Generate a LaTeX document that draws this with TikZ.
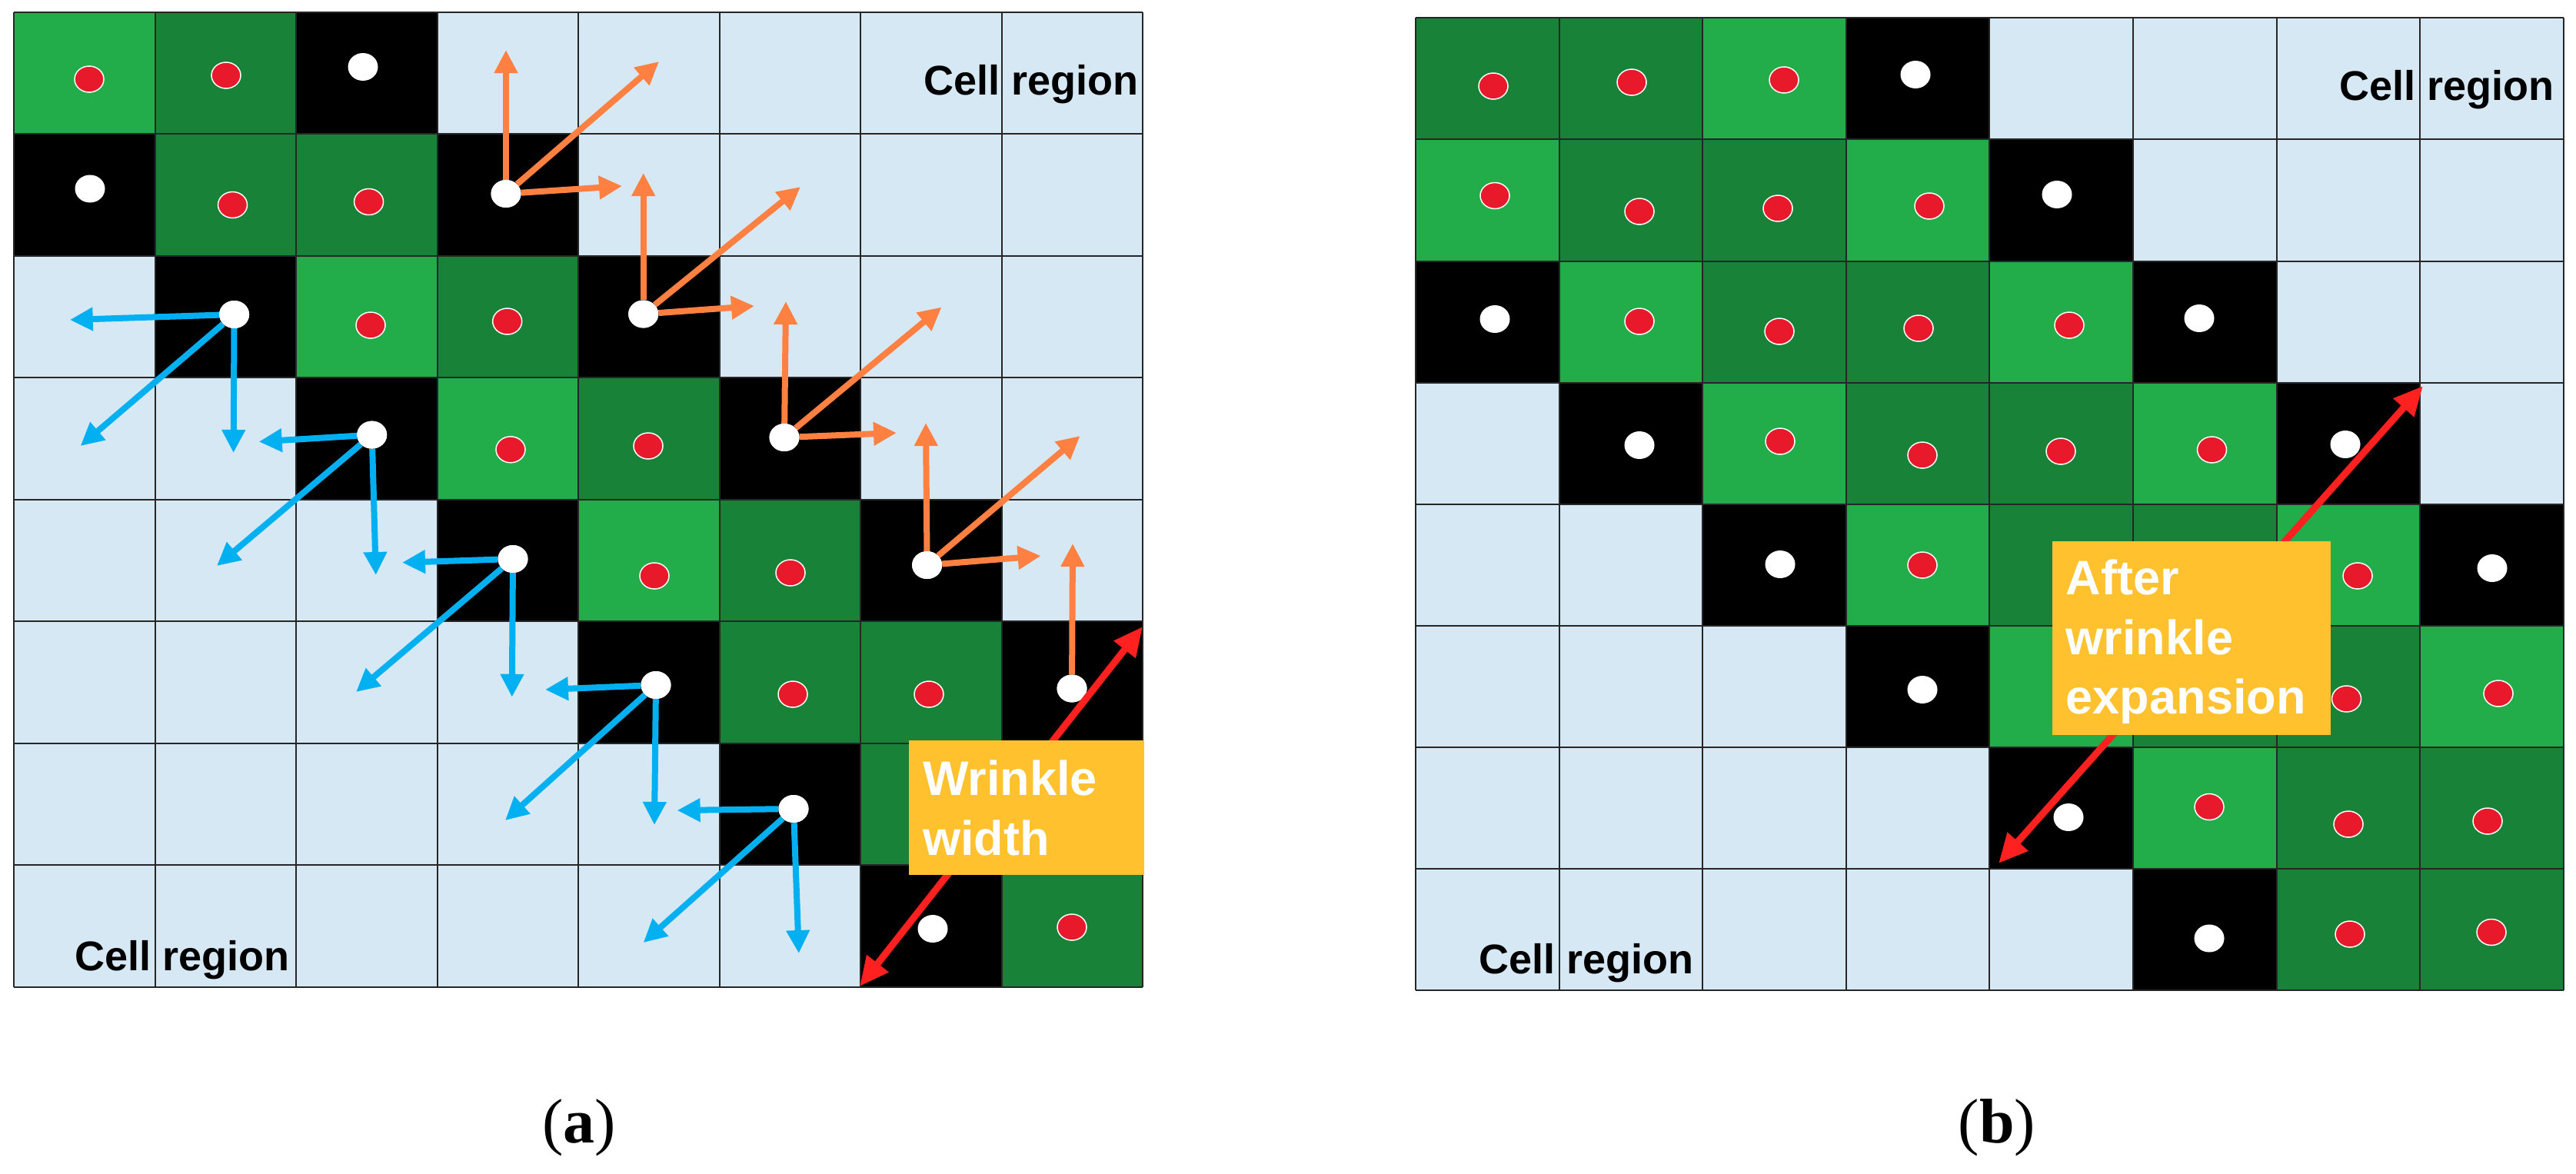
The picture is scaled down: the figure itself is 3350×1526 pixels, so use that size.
\documentclass[tikz,border=0pt]{standalone}
\usepackage{fontspec}
\setmainfont{Liberation Serif}
\setsansfont{Liberation Sans}
\usetikzlibrary{arrows.meta,shapes.geometric}
\definecolor{lblue}{HTML}{D7E8F5}
\definecolor{lgreen}{HTML}{22AD4A}
\definecolor{dgreen}{HTML}{188238}
\definecolor{dotred}{HTML}{E8192A}
\definecolor{orangeA}{HTML}{FF8040}
\definecolor{blueA}{HTML}{00B0F0}
\definecolor{redA}{HTML}{FF2020}
\definecolor{yellowA}{HTML}{FFC12E}
\tikzset{
  gline/.style={draw=black!85, line width=2pt},
  wdot/.style={ellipse, fill=white, draw=none, minimum width=39pt, minimum height=36pt, inner sep=0pt},
  rdot/.style={ellipse, fill=dotred, draw=white, line width=1.5pt, minimum width=38pt, minimum height=34pt, inner sep=0pt},
  orarrow/.style={draw=orangeA, line width=8pt, -{Triangle[length=30pt,width=29pt]}},
  blarrow/.style={draw=blueA, line width=8pt, -{Triangle[length=30pt,width=29pt]}},
  rdarrow/.style={draw=redA, line width=9pt, {Triangle[length=38pt,width=34pt]}-{Triangle[length=38pt,width=34pt]}},
  ybox/.style={fill=yellowA, draw=none, inner sep=0pt, anchor=north west},
  btxt/.style={font=\sffamily\bfseries\fontsize{63}{77.5}\selectfont, text=white, align=left, inner sep=0pt, anchor=north west},
  ctxt/.style={font=\sffamily\bfseries\fontsize{54}{60}\selectfont, inner sep=0pt, anchor=base west},
  captxt/.style={font=\rmfamily\fontsize{82}{90}\selectfont, inner sep=0pt, anchor=base}
}
\begin{document}
\begin{tikzpicture}[x=1pt,y=-1pt]
\useasboundingbox (0,0) rectangle (3350,1526);
\fill[white] (0,0) rectangle (3350,1526);

% ---------- left grid ----------
\begin{scope}[shift={(18pt,-15.6pt)},x=183.5pt,y=-158.55pt]
  \fill[lblue] (0,0) rectangle (8,8);
  \foreach \c/\r in {0/0,2/2,3/3,4/4}
    \fill[lgreen] (\c,\r) rectangle ++(1,1);
  \foreach \c/\r in {1/0,1/1,2/1,3/2,4/3,5/4,5/5,6/5,6/6,7/6,7/7}
    \fill[dgreen] (\c,\r) rectangle ++(1,1);
  \foreach \c/\r in {2/0,0/1,3/1,1/2,4/2,2/3,5/3,3/4,6/4,4/5,7/5,5/6,6/7}
    \fill[black] (\c,\r) rectangle ++(1,1);
  \foreach \i in {0,...,8} {
    \draw[gline] (\i,0) -- (\i,8);
    \draw[gline] (0,\i) -- (8,\i);
  }
\end{scope}

% ---------- right grid ----------
\begin{scope}[shift={(1841pt,-23.2pt)},x=186.6pt,y=-158.15pt]
  \fill[lblue] (0,0) rectangle (8,8);
  \foreach \c/\r in {2/0,0/1,3/1,1/2,4/2,2/3,5/3,3/4,6/4,4/5,7/5,5/6}
    \fill[lgreen] (\c,\r) rectangle ++(1,1);
  \foreach \c/\r in {0/0,1/0,1/1,2/1,2/2,3/2,3/3,4/3,4/4,5/4,5/5,6/5,6/6,7/6,6/7,7/7}
    \fill[dgreen] (\c,\r) rectangle ++(1,1);
  \foreach \c/\r in {3/0,4/1,0/2,5/2,1/3,6/3,2/4,7/4,3/5,4/6,5/7}
    \fill[black] (\c,\r) rectangle ++(1,1);
  \foreach \i in {0,...,8} {
    \draw[gline] (\i,0) -- (\i,8);
    \draw[gline] (0,\i) -- (8,\i);
  }
\end{scope}

% ---------- left dots ----------
\foreach \n/\x/\y in {a00/116/103,a01/294/98,a11/302.5/266.5,a12/479.6/262.5,
  a22/482/423,a23/659.7/418,a33/664/584.8,a34/843/580,a44/851/749,a45/1028/745,
  a55/1031/903,a56/1208/903,a77/1394/1206}
  \node[rdot] (\n) at (\x,\y) {};
\foreach \n/\x/\y in {a02/472/87,a10/117/245.5,a13/658/252,a21/304.6/409,
  a24/836.7/408.5,a32/483.7/565.6,a35/1020/569,a43/667/727,a46/1205.6/735,
  a54/853/891,a57/1394/895.5,a65/1032/1052,a76/1213/1208}
  \node[wdot] (\n) at (\x,\y) {};

% ---------- orange arrows ----------
\foreach \n/\ux/\uy/\dx/\dy/\rx/\ry in {a13/658/65/857/80/809/242,
  a24/836.7/225/1041/243/981/398,
  a35/1022/392/1224.5/399.5/1166/563,
  a46/1204/550/1404.6/567/1353.6/723}{
  \coordinate (\n u) at (\ux,\uy);
  \coordinate (\n d) at (\dx,\dy);
  \coordinate (\n r) at (\rx,\ry);
  \draw[orarrow] (\n) -- (\n u);
  \draw[orarrow] (\n) -- (\n d);
  \draw[orarrow] (\n) -- (\n r);
}
\coordinate (a57u) at (1395,707);
\draw[orarrow] (a57) -- (a57u);

% ---------- blue arrows ----------
\foreach \n/\lx/\ly/\dx/\dy/\bx/\by in {a21/90.8/416/104.6/580/303.6/589,
  a32/336.7/574.5/282/736/488.8/748,
  a43/523/731.7/463/900/665.8/906.7,
  a54/709/897/657/1067/851/1073,
  a65/880.6/1054/836.7/1226/1038.8/1240}{
  \coordinate (\n l) at (\lx,\ly);
  \coordinate (\n g) at (\dx,\dy);
  \coordinate (\n b) at (\bx,\by);
  \draw[blarrow] (\n) -- (\n l);
  \draw[blarrow] (\n) -- (\n g);
  \draw[blarrow] (\n) -- (\n b);
}
% redraw dots with arrows over them
\foreach \n/\x/\y in {a13/658/252,a21/304.6/409,a24/836.7/408.5,a32/483.7/565.6,
  a35/1020/569,a43/667/727,a46/1205.6/735,a54/853/891,a57/1394/895.5,a65/1032/1052}
  \node[wdot] (\n x) at (\x,\y) {};

% ---------- right dots ----------
\foreach \n/\x/\y in {b00/1942/112,b01/2122/107,b02/2320/104,
  b10/1944/254.5,b11/2132/275,b12/2312/271,b13/2509/268,
  b21/2132/418,b22/2314/431,b23/2495/427,b24/2691/423,
  b32/2315/574,b33/2500/592,b34/2680/587,b35/2876.5/585,
  b43/2500/735,b46/3066/749,b56/3051.5/909,b57/3249/902,
  b65/2873/1049.5,b66/3054/1072,b67/3235/1068,b76/3056/1215,b77/3240/1212.5}
  \node[rdot] (\n) at (\x,\y) {};
\foreach \n/\x/\y in {b03/2491/97,b14/2675/253,b20/1944/415,b25/2860/414,
  b31/2132/579,b36/3050/578,b42/2315/734,b47/3241/739,b53/2500/897,
  b64/2690/1063,b75/2873/1220.5}
  \node[wdot] (\n) at (\x,\y) {};

% ---------- red double arrows ----------
\coordinate (wl1) at (1118,1283);
\coordinate (wl2) at (1486,815);
\draw[rdarrow] (wl1) -- (wl2);
\coordinate (wr1) at (2599,1123);
\coordinate (wr2) at (3151,502);
\draw[rdarrow] (wr1) -- (wr2);

% ---------- yellow boxes ----------
\node[ybox, minimum width=306pt, minimum height=175pt] (wbox) at (1182,963) {};
\node[btxt] (wtxt) at (1200,989) {Wrinkle\\width};
\node[ybox, minimum width=362pt, minimum height=252pt] (ebox) at (2668.4,703.6) {};
\node[btxt] (etxt) at (2686.7,728) {After\\wrinkle\\expansion};

% ---------- labels ----------
\node[ctxt] (cl1) at (1201,123) {Cell region};
\node[ctxt] (cl2) at (97,1262) {Cell region};
\node[ctxt] (cr1) at (3042,130) {Cell region};
\node[ctxt] (cr2) at (1923,1266) {Cell region};

\node[captxt] (capa) at (753,1486) {(\textbf{a})};
\node[captxt] (capb) at (2597,1486) {(\textbf{b})};
\end{tikzpicture}
\end{document}
